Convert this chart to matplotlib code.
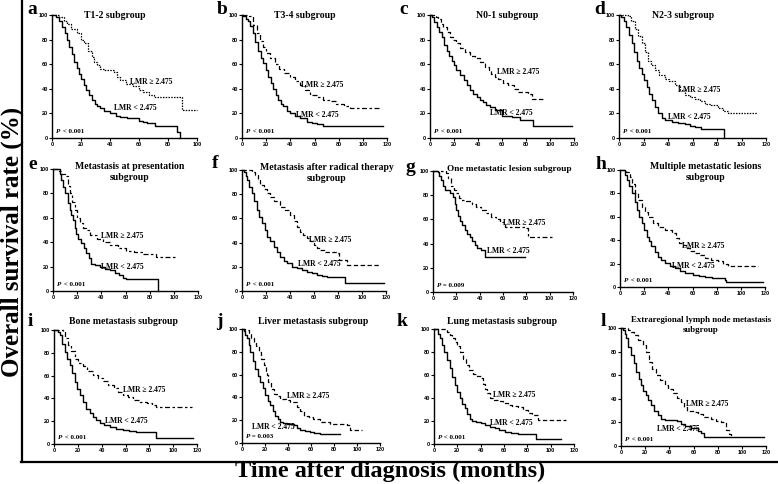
import matplotlib
matplotlib.use('Agg')
import matplotlib.pyplot as plt
from matplotlib.lines import Line2D

# ---------------- data ----------------
letters = ['a', 'b', 'c', 'd', 'e', 'f', 'g', 'h', 'i', 'j', 'k', 'l']
titles = ['T1-2 subgroup', 'T3-4 subgroup', 'N0-1 subgroup', 'N2-3 subgroup',
          'Metastasis at presentation\nsubgroup', 'Metastasis after radical therapy\nsubgroup',
          'One metastatic lesion subgroup', 'Multiple metastatic lesions\nsubgroup',
          'Bone metastasis subgroup', 'Liver metastasis subgroup',
          'Lung metastasis subgroup', 'Extraregional lymph node metastasis\nsubgroup']
p_values = ['< 0.001', '< 0.001', '< 0.001', '< 0.001', '< 0.001', '< 0.001',
            '= 0.009', '< 0.001', '< 0.001', '= 0.003', '< 0.001', '< 0.001']
label_high = 'LMR \u2265 2.475'
label_low = 'LMR < 2.475'
x_max = [100, 120, 120, 120, 120, 120, 120, 120, 120, 120, 120, 120]
x_ticks_a = [0, 20, 40, 60, 80, 100]
x_ticks = [0, 20, 40, 60, 80, 100, 120]
y_ticks = [0, 20, 40, 60, 80, 100]

a_low_t = [0, 3, 5, 7, 9, 10.5, 12, 13.8, 15.5, 17, 18.4, 20, 21.8, 23.5, 25.5, 27.6, 29.5, 31, 33.3, 36, 40, 44, 47, 52, 56, 60, 63, 65.5, 71, 86, 88]
a_low_s = [100, 98, 95, 90, 85, 80, 74, 68, 62, 57, 52, 48, 43, 39, 35, 31, 28, 26, 24, 22, 20, 18, 17, 16.5, 16, 14, 13, 12, 9.5, 5, 0]
a_high_t = [0, 5, 8, 10, 13, 17, 20, 22, 25, 27.6, 29, 31, 33, 35.6, 42.5, 45, 47, 51, 56, 60, 63, 67, 70, 86, 89.5, 100]
a_high_s = [100, 98, 95, 93, 89, 85, 80, 77, 71, 66, 62, 59, 56, 55, 54, 50, 47, 44, 42, 39, 37.5, 35, 33, 33, 22.5, 22.5]

b_low_t = [0, 1, 3, 5, 7, 9, 11, 13.3, 15.5, 17.5, 19.5, 21.6, 23.6, 25.8, 28, 30, 32, 34, 37, 39.6, 44, 48, 53.5, 58, 62, 67, 117]
b_low_s = [100, 99, 97, 95, 91, 85, 78, 71, 65, 60.6, 55, 50, 45, 40, 35, 31, 28, 25.8, 22, 20, 18, 16, 13, 12, 11, 10, 10]
b_high_t = [0, 3, 6, 9, 12, 15, 17.5, 20, 23, 27, 31, 35, 39.6, 44, 48, 52, 56, 62, 67, 72, 78, 84, 89.5, 114]
b_high_s = [100, 100, 99, 92, 85, 79, 74, 69, 65, 60, 56.5, 53, 50, 46, 43, 39, 35, 33, 31, 30, 28, 25.8, 24, 24]

c_low_t = [0, 1.4, 3.5, 5.5, 7.5, 9.7, 12, 14, 16, 18, 20, 22, 25, 28, 30.5, 33, 36, 39, 41.5, 44.4, 47, 50, 54, 60, 68, 75, 86, 118.6]
c_low_s = [100, 98, 94, 90.5, 86, 82, 76, 71, 67, 63, 59, 55, 51, 47, 43, 39, 36, 33, 31, 29, 27, 25, 22.6, 18, 17, 15, 10, 10]
c_high_t = [0, 3, 5, 7, 9, 11, 14, 16.7, 19, 22, 25, 29, 33, 37.5, 42, 46, 49, 51, 54, 57, 61, 65, 70, 73.6, 78, 82, 85, 96]
c_high_s = [100, 99, 98, 97, 93, 90, 86, 82, 80, 77, 73, 70, 67, 65, 62, 58, 55, 52, 50, 48, 45, 43, 40, 37.5, 37, 36, 32, 32]

d_low_t = [0, 2, 4, 6, 8, 10.3, 12.3, 14.4, 16.4, 18.4, 20.5, 22.5, 24.5, 26.6, 29, 32, 35, 37.4, 43, 48, 53.7, 58, 62, 67, 86]
d_low_s = [100, 98, 95, 90.5, 84, 77, 70, 63, 57, 52, 47, 41.6, 36, 30.7, 25, 20, 16, 14.4, 13, 12.5, 11.7, 10, 9, 7.6, 0]
d_high_t = [0, 5, 7.6, 10, 13, 15.5, 18.4, 21, 24, 26.5, 29, 33, 37.4, 41, 45.5, 50, 53.7, 58, 62, 66, 70, 75, 80.8, 85, 89, 113]
d_high_s = [100, 100, 99, 95, 89, 83, 77.4, 70, 63, 59, 55, 51, 48, 46, 43, 39, 35, 33, 32, 30, 28, 26.6, 24, 22, 20, 20]

e_low_t = [0, 4, 5.5, 7, 8.5, 9.7, 12, 13.8, 15, 16.5, 18, 19.3, 21, 23.4, 25.5, 27.6, 29.5, 31.7, 35, 38.6, 43, 47, 51, 55, 58, 60.7, 87]
e_low_s = [100, 100, 96, 91, 85, 80, 72, 66.6, 62, 58, 52, 47, 43, 39, 35, 31, 27, 22.5, 21, 20, 18, 17, 15, 13, 11, 10, 0]
e_high_t = [0, 5, 7, 9.7, 12, 13.8, 16, 18, 20, 22, 25, 27.6, 31, 36, 41, 47, 54, 60.7, 67, 74.5, 80, 85.5, 102]
e_high_s = [100, 98, 96, 94, 86, 80, 73, 66.6, 60, 55.6, 52, 50, 46, 43, 40, 37.5, 35, 33, 32, 30.7, 30, 28, 28]

f_low_t = [0, 1.4, 3, 4, 6, 8, 10, 12.5, 14.5, 16.7, 19, 21, 23.5, 26.4, 29, 32, 35, 37.5, 42, 46, 50, 54, 58, 62.5, 67, 71, 86, 118]
f_low_s = [100, 98, 95, 91.7, 86, 80.7, 74, 67, 61, 56, 50, 45, 41, 36.6, 32, 28.4, 25, 22.9, 20, 18.7, 17, 16, 14.5, 13, 12, 11.5, 7, 7]
f_high_t = [0, 5, 8, 11, 13, 15, 18, 21, 23.6, 27, 32, 36, 40, 43, 46, 48.5, 51, 54, 57, 60, 62.5, 65, 68, 79, 80.5, 85, 87.5, 115]
f_high_s = [100, 100, 98.6, 96, 92, 87.6, 84, 81, 78, 74, 69.7, 67, 63, 58, 53, 49, 46, 44, 41, 38, 35.5, 34, 32.5, 31, 25.6, 25.6, 21.5, 21.5]

g_low_t = [0, 4.3, 5.5, 7, 8.5, 10, 14.3, 17, 18.5, 20, 21.5, 22.9, 25, 27, 29, 31.4, 33.5, 35.7, 38, 41.4, 44.3, 78.6]
g_low_s = [100, 99.4, 96, 92.5, 88, 84, 81.5, 78.7, 73, 67.7, 63, 59, 55, 51, 48, 45.6, 42, 38.7, 36, 34.5, 29, 29]
g_high_t = [0, 11.4, 13, 15.7, 18, 20, 22, 24.3, 28, 33, 37, 41.4, 45, 50, 54, 57, 61.4, 78.6, 81.4, 104]
g_high_s = [100, 98, 94, 88, 84, 81.5, 78, 76, 75, 73, 70, 67.7, 65, 62, 60, 58, 54, 52.5, 45.6, 45.6]

h_low_t = [0, 2.8, 4, 5.5, 7.5, 9.7, 12, 13.8, 16, 18, 20, 22, 24, 26, 29, 31.7, 34, 37, 41, 45.5, 50, 54, 60, 65, 70, 76, 87, 88, 118]
h_low_s = [100, 100, 96, 91.5, 86, 80, 73, 66, 60, 54.5, 49, 43, 39, 34.7, 30, 26, 23, 20.5, 18, 16, 14, 12, 10.5, 9, 8.5, 7.7, 6, 4.5, 4.5]
h_high_t = [0, 5, 8.3, 10, 12.4, 15, 18, 20.5, 23.4, 27, 31.7, 37, 42.8, 46, 49, 51, 55, 58, 62, 66, 70, 75, 81, 85, 89.6, 114.5]
h_high_s = [100, 98, 94, 88, 80, 74, 68.8, 64, 60, 55, 51.7, 49, 46, 42, 38, 36, 33, 31, 29, 27, 24.7, 23, 22, 20, 17.6, 17.6]

i_low_t = [0, 2, 3.5, 4.8, 7, 9, 11, 13.2, 15.5, 17.4, 19.5, 21.6, 24, 27.2, 30, 32.9, 35.5, 38.5, 42, 47, 52, 58, 63, 69, 86, 117]
i_low_s = [100, 100, 98, 95.6, 88, 81, 75, 69, 62, 54.7, 48, 43, 37, 31, 27, 24, 21, 18, 16.5, 15, 13.5, 12.3, 11.5, 10.8, 4.9, 4.9]
i_high_t = [0, 4, 7.6, 9.5, 11.8, 14, 17.4, 20, 24.4, 28, 33, 37, 41, 45, 50, 54, 58, 62, 66.6, 72, 78, 82, 86, 116]
i_high_s = [100, 100, 98.5, 93, 87, 82, 75, 71, 68, 64, 60.5, 58, 55, 52, 49, 46, 43, 41, 38.6, 37, 35.7, 34, 32.5, 32.5]

j_low_t = [0, 1.4, 3, 4.3, 6, 7.2, 9.5, 11.6, 14, 15.9, 18, 20, 22.5, 24.6, 27, 29, 31, 33, 36, 39, 45, 48, 50.6, 55, 59, 63, 68, 85]
j_low_s = [100, 98, 95, 92, 86, 80, 72, 65, 59, 53.7, 48, 42, 37, 33, 28, 24, 21, 18.5, 17.5, 17, 15.5, 13, 11, 10.5, 9.7, 9, 8.2, 8.2]
j_high_t = [0, 3, 5.8, 8, 10, 12, 14.5, 16.5, 18.8, 20.5, 22, 23, 25, 27.5, 30, 33, 38, 42, 47.7, 50, 53.5, 58, 62, 68, 76.6, 91, 94, 104]
j_high_s = [100, 99, 96, 92, 89, 85, 80, 74, 68, 63, 60, 53.7, 47, 43.4, 41, 39, 37.5, 36, 31.7, 28, 24, 23, 21.4, 18.5, 17, 15.5, 11, 11]

k_low_t = [0, 2, 3.5, 4.9, 7, 9, 11, 13.4, 15.5, 17.7, 20, 22, 24, 26.3, 28.5, 30.6, 33, 36, 40, 43.4, 48, 52, 56, 60.6, 66, 72, 87, 109]
k_low_s = [100, 100, 96, 92, 86, 80, 73, 66, 58, 51, 45, 40, 35, 31, 26, 22, 20, 19, 18, 16.5, 15, 13.6, 12, 10.7, 9.5, 9, 4.3, 4.3]
k_high_t = [0, 9, 11, 13.4, 15.5, 17.7, 20, 22, 25, 27.7, 30, 33.4, 37, 40.6, 42, 43.4, 45.5, 47.7, 51, 54.8, 59, 63.4, 67, 72, 76, 80.6, 84, 89, 113]
k_high_s = [100, 100, 97, 95, 92, 89, 85, 80, 74, 68.7, 64, 61, 59, 57, 52, 48, 44, 39.7, 38, 37, 35.5, 34, 33, 32.5, 30, 26.7, 25, 21, 21]

l_low_t = [0, 1.4, 3, 4, 6, 8.3, 10.5, 12.4, 14.5, 16.5, 18.5, 20.7, 22.5, 24.8, 27, 30.3, 33, 36, 46, 49.6, 53, 58, 63.4, 66, 69, 118]
l_low_s = [100, 98, 95, 91.5, 84, 77, 70, 63, 57, 52, 47, 43, 39, 34.7, 30, 26, 23, 22, 21, 19, 17, 15, 13, 11, 8, 8]
l_high_t = [0, 5.5, 8, 11, 14, 18, 20.5, 23.4, 26, 29, 32, 36, 39, 42.8, 46, 49.6, 52, 55, 60, 63.4, 68, 74.5, 79, 82.8, 87, 89.6, 91]
l_high_s = [100, 98.6, 97, 94, 90, 85.8, 80, 71.6, 65, 60, 56, 51.7, 48, 44.6, 41, 37.5, 33, 30, 28.5, 27, 25, 23, 21, 20.5, 13.4, 10, 7.7]

low_curves = [(a_low_t, a_low_s), (b_low_t, b_low_s), (c_low_t, c_low_s), (d_low_t, d_low_s),
              (e_low_t, e_low_s), (f_low_t, f_low_s), (g_low_t, g_low_s), (h_low_t, h_low_s),
              (i_low_t, i_low_s), (j_low_t, j_low_s), (k_low_t, k_low_s), (l_low_t, l_low_s)]
high_curves = [(a_high_t, a_high_s), (b_high_t, b_high_s), (c_high_t, c_high_s), (d_high_t, d_high_s),
               (e_high_t, e_high_s), (f_high_t, f_high_s), (g_high_t, g_high_s), (h_high_t, h_high_s),
               (i_high_t, i_high_s), (j_high_t, j_high_s), (k_high_t, k_high_s), (l_high_t, l_high_s)]

# ---------------- layout / style ----------------
W, H = 778, 484
# pixel boxes: x at 0, x at x_max, y at 100, y at 0
boxes = [(52, 197, 15, 138), (242, 387, 15, 138), (430, 574, 15, 138), (619, 766, 15, 138),
         (53, 198, 169, 291), (242, 386, 170, 291), (433, 573, 171, 292), (620, 765, 170, 287),
         (54, 197, 330, 444), (242, 380, 329, 443), (434, 574, 329, 444), (621, 766, 328, 446)]
title_pos = [(115, 16), (305, 16), (507, 16), (683, 15),
             (130, 172), (327, 173), (509, 169), (706, 172),
             (123, 321), (313, 321), (502, 321), (701, 325)]
title_size = [7, 7, 7, 7, 7, 7, 6.7, 7, 7, 7, 7, 6.4]
letter_pos = [(32, 10), (222, 10), (404, 10), (600, 10),
              (33, 165), (215, 163), (410, 167), (601, 165),
              (30, 321), (219, 321), (402, 322), (603, 321)]
hi_lab = [(54, 45.6), (49, 43), (55.5, 54), (48, 39), (40, 45), (55.5, 42),
          (60, 57), (51, 35), (58, 47), (39, 41), (50.6, 42.6), (54, 36)]
lo_lab = [(42.5, 24), (45, 18.5), (50, 20), (40, 17), (40, 20), (47, 22),
          (46, 34), (43, 18), (42.7, 20), (8.7, 14), (47.7, 18.5), (30, 14.5)]
hi_style = [(0, (1.2, 1.0)), (0, (4, 2, 2, 2)), (0, (3.5, 2)), (0, (1.2, 1.0)),
            (0, (4, 2, 2, 2)), (0, (3.5, 2)), (0, (4, 2, 2, 2)), (0, (3.5, 2)),
            (0, (4, 2, 2, 2)), (0, (3.5, 2)), (0, (3.5, 2)), (0, (3.5, 2))]

SERIF = ['Liberation Serif', 'DejaVu Serif']
SANS = ['Liberation Sans', 'DejaVu Sans']

fig = plt.figure(figsize=(W / 100, H / 100), dpi=100)
fig.patch.set_facecolor('white')

for k in range(12):
    x0, x1, y100, y0 = boxes[k]
    ax = fig.add_axes([x0 / W, 1 - y0 / H, (x1 - x0) / W, (y0 - y100) / H])
    ax.set_xlim(0, x_max[k])
    ax.set_ylim(0, 100)
    ax.set_facecolor('none')
    for s in ['top', 'right']:
        ax.spines[s].set_visible(False)
    for s in ['left', 'bottom']:
        ax.spines[s].set_linewidth(1.0)
    ax.set_xticks(x_ticks_a if x_max[k] == 100 else x_ticks)
    ax.set_yticks(y_ticks)
    ax.tick_params(direction='out', length=2, width=0.8, pad=1, labelsize=4)
    for lab in ax.get_xticklabels() + ax.get_yticklabels():
        lab.set_family(SANS)
        lab.set_fontweight('bold')
    lt, ls = low_curves[k]
    ht, hs = high_curves[k]
    ax.plot(lt, ls, drawstyle='steps-post', color='black', lw=1.0, clip_on=False)
    ax.plot(ht, hs, drawstyle='steps-post', color='black', lw=0.9, linestyle=hi_style[k], clip_on=False)
    ax.text(hi_lab[k][0], hi_lab[k][1], label_high, fontsize=5.5, fontweight='bold',
            family=SERIF, va='center', ha='left')
    ax.text(lo_lab[k][0], lo_lab[k][1], label_low, fontsize=5.5, fontweight='bold',
            family=SERIF, va='center', ha='left')
    tp = ax.text(0.03, 0.035, 'P', transform=ax.transAxes, fontsize=5, fontweight='bold',
                 fontstyle='italic', family=SERIF, va='bottom', ha='left')
    ax.annotate(' ' + p_values[k], xy=(1, 0), xycoords=tp, va='bottom', ha='left',
                fontsize=5, fontweight='bold', family=SERIF)
    fig.text(title_pos[k][0] / W, 1 - title_pos[k][1] / H, titles[k], fontsize=title_size[k],
             fontweight='bold', family=SERIF, ha='center', va='center', linespacing=1.2)
    fig.text(letter_pos[k][0] / W, 1 - letter_pos[k][1] / H, letters[k], fontsize=14,
             fontweight='bold', family=SERIF, ha='center', va='center')

# outer frame lines
fig.add_artist(Line2D([22 / W, 22 / W], [1, 1 - 462 / H], color='black', lw=1.6))
fig.add_artist(Line2D([21 / W, 1], [1 - 462 / H, 1 - 462 / H], color='black', lw=1.6))

fig.text(390 / W, 1 - 471 / H, 'Time after diagnosis (months)', fontsize=17.5, fontweight='bold',
         family=SERIF, ha='center', va='center')
fig.text(0.5 / W, 1 - 242 / H, 'Overall survival rate (%)', fontsize=18, fontweight='bold',
         family=SERIF, ha='left', va='center', rotation=90)

fig.savefig('out.png', dpi=100)
